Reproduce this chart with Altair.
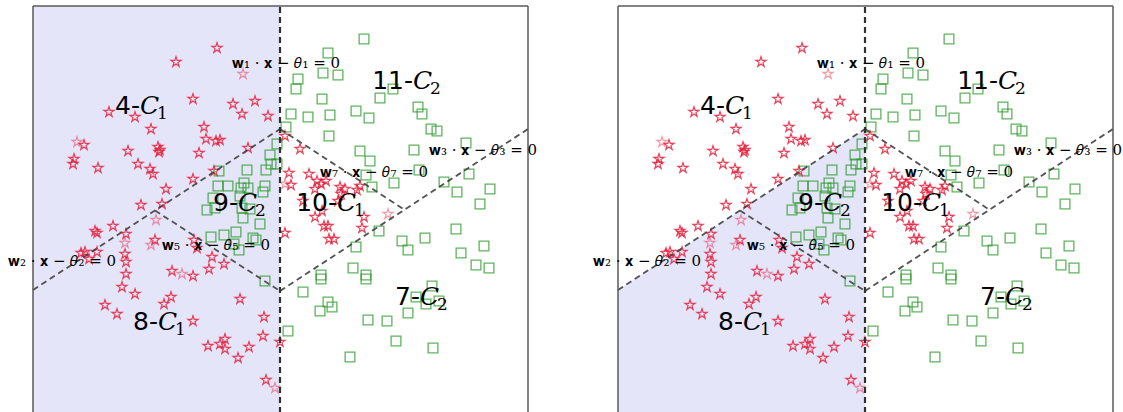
import altair as alt
import pandas as pd

# ---- samples of class C1 (stars) ----
c1_x = [-0.63, -1.04, -0.87, -0.47, -0.25, -0.38, -0.12, -1.71, -1.45, -1.29,
        -0.76, -0.74, -0.64, -0.60, -0.32, -0.81, -1.22, -1.20, -1.21, -1.96,
        -1.52, -2.06, -2.07, -1.82, -1.42, -1.30, -1.27, -0.87, -1.14, -1.39,
        -1.18, -0.66,
        -1.67, -1.85, -1.83, -1.54, -1.25, -1.83, -1.99, -1.95, -1.91, -1.55,
        -1.54, -1.54, -1.58, -1.45, -1.75, -1.63, -0.86, -0.83, -0.68, -0.56,
        -0.71, -1.08, -0.87, -1.09, -1.16, -0.40, -0.87, -0.16, -0.17, -0.55,
        -0.72, -0.60, -0.55, -0.31, -0.42, 0.00, -0.14,
        0.05, 0.20, 0.09, 0.29, 0.11, 0.37, 0.41, 0.46, 0.35, 0.60,
        0.65, 0.61, 0.80, 0.77, 0.23, 0.58, 0.42, 0.35, 0.44, 0.48,
        0.49, 0.54, 0.84, 0.82, 0.05]
c1_y = [2.43, 2.29, 1.92, 1.87, 1.90, 1.77, 1.75, 1.79, 1.74, 1.62,
        1.64, 1.52, 1.50, 1.51, 1.43, 1.38, 1.44, 1.41, 1.39, 1.46,
        1.40, 1.32, 1.27, 1.23, 1.27, 1.22, 1.17, 1.12, 1.02, 0.86,
        0.87, 1.20,
        0.65, 0.60, 0.58, 0.57, 0.51, 0.39, 0.38, 0.39, 0.32, 0.37,
        0.29, 0.17, 0.04, -0.03, -0.14, -0.23, 0.51, 0.43, 0.34, 0.27,
        0.22, 0.20, 0.15, -0.06, -0.13, -0.08, -0.30, -0.26, -0.45, -0.48,
        -0.55, -0.53, -0.58, -0.56, -0.67, -0.51, -0.89,
        1.55, 1.42, 1.18, 1.17, 1.06, 1.10, 1.07, 1.10, 1.02, 1.04,
        1.02, 0.97, 1.05, 1.01, 0.90, 0.90, 0.80, 0.74, 0.65, 0.65,
        0.52, 0.52, 0.74, 0.63, 0.58]

# lighter C1 samples
c1_pale_x = [-0.37, -2.03, -1.24, -1.55, -1.29, -0.98, -0.05, 0.05, 1.08]
c1_pale_y = [2.17, 1.49, 0.71, 0.48, 0.46, 0.17, -0.97, 1.07, 0.77]

# ---- samples of class C2 (squares) ----
c2_x = [0.84, 0.48, 0.43, 0.58, 0.18, 0.16, 1.13, 1.00, 0.42, 0.76,
        0.89, 0.11, 0.28, 0.50, 1.38, 1.42, 1.51, 1.57, 0.06, 0.49,
        0.80, 1.34, 0.90, 1.86, 0.86, 0.92, 1.14, 1.39, 1.64, 1.89,
        1.77, 2.10, 2.00,
        0.99, 0.76, 0.73, 0.41, 0.41, 0.86, 0.86, 0.23, 0.48, 0.52,
        0.40, 0.88, 1.07, 1.16, 0.70, 0.08, 1.22, 1.28, 1.45, 1.76,
        2.04, 1.81, 1.96, 2.09, 1.52, 1.36, 1.46, 1.59, 1.28, 1.53,
        -0.61, -0.33, -0.14, -0.10, -0.03, -0.09, -0.03, -0.62, -0.52, -0.36,
        -0.39, -0.32, -0.15, -0.17, -0.67, -0.40, -0.73, -0.65, -0.38, -0.30,
        -0.37, -0.20, -0.69, -0.56, -0.44, -0.27, -0.24, -0.46, -0.41, -0.15]
c2_y = [2.52, 2.38, 2.18, 2.16, 2.12, 2.02, 2.02, 1.93, 1.92, 1.80,
        1.73, 1.77, 1.74, 1.76, 1.84, 1.77, 1.62, 1.60, 1.64, 1.55,
        1.40, 1.41, 1.30, 1.48, 1.16, 1.04, 1.08, 1.21, 1.09, 1.17,
        0.99, 1.02, 0.87,
        0.60, 0.44, 0.23, 0.16, 0.12, 0.16, 0.12, -0.01, -0.11, -0.16,
        -0.20, -0.29, -0.30, -0.50, -0.66, -0.40, 0.50, 0.41, 0.53, 0.62,
        0.45, 0.38, 0.26, 0.23, 0.05, -0.06, -0.13, -0.10, -0.22, -0.57,
        1.20, 1.21, 1.21, 1.36, 1.47, 1.27, 1.27, 1.05, 1.05, 1.08,
        1.03, 1.03, 1.05, 0.99, 0.93, 0.95, 0.81, 0.83, 0.83, 0.82,
        0.73, 0.67, 0.54, 0.56, 0.59, 0.53, 0.51, 0.47, 0.41, 0.10]

# ---- plotting window ----
X_MIN, X_MAX = -2.47, 2.48
Y_MIN, Y_MAX = -1.22, 2.85

# ---- separating hyperplanes w_i . x - theta_i = 0, drawn as segments ----
plane_id = ["1", "2", "3", "5", "7"]
plane_x1 = [0.0, X_MIN, 0.0, -1.25, 0.0]
plane_y1 = [Y_MIN, 0.01, 0.0, 0.805, 1.62]
plane_x2 = [0.0, 0.0, X_MAX, 0.0, 1.25]
plane_y2 = [Y_MAX, 1.62, 1.62, 0.0, 0.81]

# hyperplane labels (left edge, baseline)
plane_label_x = [-0.48, -2.72, 1.49, -1.18, 0.40]
plane_label_y = [2.23, 0.25, 1.36, 0.41, 1.14]

# region labels: node number and class
region_num = ["4", "11", "9", "10", "7", "8"]
region_cls = ["1", "2", "2", "1", "2", "1"]
region_x = [-1.40, 1.33, -0.42, 0.57, 1.40, -1.22]
region_y = [1.77, 2.02, 0.80, 0.80, -0.14, -0.39]

SUB = {"1": "\u2081", "2": "\u2082", "3": "\u2083", "5": "\u2085", "7": "\u2087"}
STAR = ("M0,-1L0.2245,-0.309L0.951,-0.309L0.363,0.118L0.588,0.809L0,0.382"
        "L-0.588,0.809L-0.363,0.118L-0.951,-0.309L-0.2245,-0.309Z")

xs = alt.Scale(domain=[X_MIN, X_MAX], nice=False, zero=False)
ys = alt.Scale(domain=[Y_MIN, Y_MAX], nice=False, zero=False)


def X(f):
    return alt.X(f, type="quantitative", scale=xs, axis=None)


def Y(f):
    return alt.Y(f, type="quantitative", scale=ys, axis=None)


c1 = pd.DataFrame({"x": c1_x, "y": c1_y})
c1_pale = pd.DataFrame({"x": c1_pale_x, "y": c1_pale_y})
c2 = pd.DataFrame({"x": c2_x, "y": c2_y})
planes = pd.DataFrame({"x": plane_x1, "y": plane_y1, "x2": plane_x2, "y2": plane_y2,
                       "id": plane_id})
plane_labels = pd.DataFrame({
    "x": plane_label_x, "y": plane_label_y,
    "t": [f"\U0001D430{SUB[i]} \u00b7 \U0001D431 \u2212 \U0001D703{SUB[i]} = 0" for i in plane_id],
})
regions = pd.DataFrame({
    "x": region_x, "y": region_y,
    "num": [n + "-" for n in region_num],
    "cls": region_cls,
})
frame = pd.DataFrame({"x": [X_MIN, X_MIN, X_MAX], "y": [Y_MAX, Y_MIN, Y_MIN],
                      "x2": [X_MAX, X_MIN, X_MAX], "y2": [Y_MAX, Y_MAX, Y_MAX]})

SHADE = "#e5e5fa"

# left panel: half-plane x < 0 shaded
shade_left = alt.Chart(pd.DataFrame({"x": [X_MIN, 0.0], "y": [Y_MAX, Y_MAX],
                                     "y2": [Y_MIN, Y_MIN]})).mark_area(
    color=SHADE).encode(x=X("x"), y=Y("y"), y2="y2")

# right panel: region below plane 2 and left of plane 1
shade_right = alt.Chart(pd.DataFrame({"x": [X_MIN, 0.0], "y": [0.01, 1.62],
                                      "y2": [Y_MIN, Y_MIN]})).mark_area(
    color=SHADE).encode(x=X("x"), y=Y("y"), y2="y2")


def panel(shade):
    squares = alt.Chart(c2).mark_point(
        shape="square", size=95, filled=False, stroke="#2a9a2a",
        strokeWidth=1.3, opacity=0.75).encode(x=X("x"), y=Y("y"))
    stars = alt.Chart(c1).mark_point(
        shape=STAR, size=115, filled=False, stroke="#e8203c",
        strokeWidth=1.2, opacity=0.85).encode(x=X("x"), y=Y("y"))
    stars_pale = alt.Chart(c1_pale).mark_point(
        shape=STAR, size=115, filled=False, stroke="#e8203c",
        strokeWidth=1.2, opacity=0.45).encode(x=X("x"), y=Y("y"))
    lines = alt.Chart(planes).transform_filter(alt.datum.id != "1").mark_rule(
        color="#404040", strokeWidth=1.8, strokeDash=[6, 4], opacity=0.9).encode(
        x=X("x"), y=Y("y"), x2="x2", y2="y2")
    vline = alt.Chart(planes).transform_filter(alt.datum.id == "1").mark_rule(
        color="#303030", strokeWidth=2.2, strokeDash=[6, 4]).encode(
        x=X("x"), y=Y("y"), x2="x2", y2="y2")
    border = alt.Chart(frame).mark_rule(color="#5a5a5a", strokeWidth=1.5).encode(
        x=X("x"), y=Y("y"), x2="x2", y2="y2")
    plabels = alt.Chart(plane_labels).mark_text(
        align="left", baseline="alphabetic", font="DejaVu Serif", fontSize=15,
        color="black").encode(x=X("x"), y=Y("y"), text="t")
    rnum = alt.Chart(regions).mark_text(
        align="right", baseline="alphabetic", font="DejaVu Sans", fontSize=25,
        color="black").encode(x=X("x"), y=Y("y"), text="num")
    rC = alt.Chart(regions).mark_text(
        align="left", baseline="alphabetic", font="DejaVu Serif", fontSize=25,
        fontStyle="italic", color="black", text="C").encode(x=X("x"), y=Y("y"))
    rsub = alt.Chart(regions).mark_text(
        align="left", baseline="alphabetic", font="DejaVu Serif", fontSize=17,
        color="black", dx=17, dy=5).encode(x=X("x"), y=Y("y"), text="cls")
    return alt.layer(shade, squares, stars, stars_pale, lines, vline, border,
                     plabels, rnum, rC, rsub).properties(width=495, height=407)


chart = alt.hconcat(panel(shade_left), panel(shade_right), spacing=90,
                    bounds="flush").configure_view(stroke=None).properties(
    padding={"left": 8, "top": 4, "right": 0, "bottom": 0},
    background="white",
)

chart.save("out.html", embed_options={"renderer": "svg", "actions": False})
